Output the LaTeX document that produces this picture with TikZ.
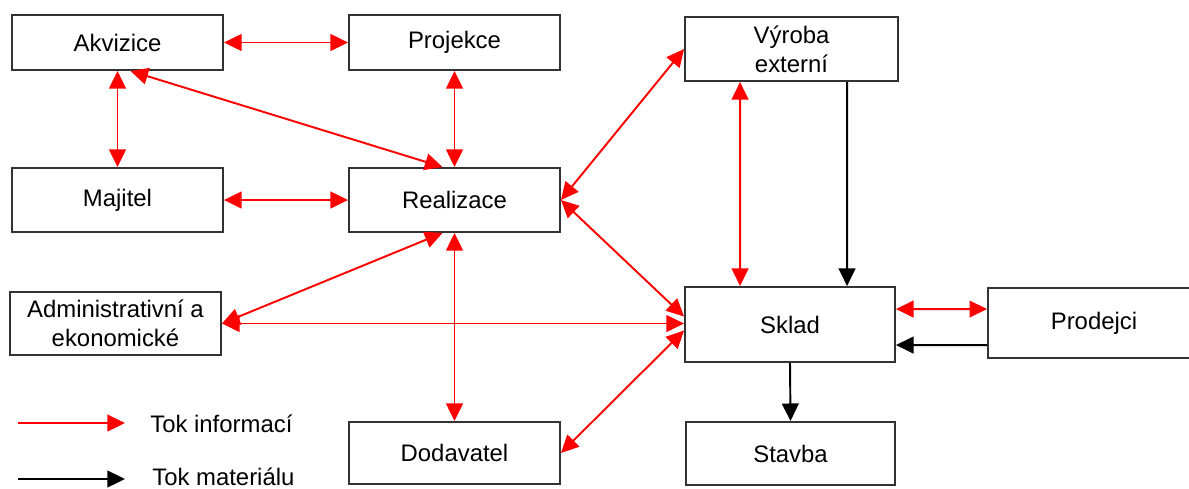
\documentclass[tikz,border=0pt]{standalone}
\usepackage{fontspec}
\setmainfont{Liberation Sans}
\usetikzlibrary{arrows.meta,calc}
\begin{document}
\begin{tikzpicture}[x=0.02cm,y=-0.02cm,
  txt/.style={font=\fontsize{13.6}{16.5}\selectfont},
  box/.style={draw=black!80, line width=1.1pt, rectangle, inner sep=0pt, align=center, txt},
  arr/.tip={Triangle[length=10pt,width=9.5pt]},
  info/.style={red, line width=1.1pt, arr-arr},
  infoone/.style={red, line width=1.1pt, -arr},
  mat/.style={black, line width=1.1pt, -arr},
]
\useasboundingbox (0,0) rectangle (1189,488);
% boxes
\node[box, minimum width=4.22cm, minimum height=1.10cm] (akv) at (117.5,42.5) {Akvizice};
\node[box, minimum width=4.22cm, minimum height=1.10cm] (proj) at (454.5,42.5) {Projekce};
\node[box, minimum width=4.26cm, minimum height=1.28cm] (vyr) at (791.5,49) {Výroba\\externí};
\node[box, minimum width=4.22cm, minimum height=1.28cm] (maj) at (117.5,200) {Majitel};
\node[box, minimum width=4.22cm, minimum height=1.28cm] (real) at (454.5,200) {Realizace};
\node[box, minimum width=4.22cm, minimum height=1.26cm] (adm) at (115.5,323.5) {Administrativní a\\ekonomické};
\node[box, minimum width=4.20cm, minimum height=1.50cm] (sklad) at (790,324.5) {Sklad};
\node[box, minimum width=4.24cm, minimum height=1.40cm] (prod) at (1094,323) {Prodejci};
\node[box, minimum width=4.22cm, minimum height=1.24cm] (dod) at (454.5,453) {Dodavatel};
\node[box, minimum width=4.18cm, minimum height=1.26cm] (stavba) at (790.5,453.5) {Stavba};
% information flows
\draw[info] (akv.east) -- (proj.west);
\draw[info] (akv.south) -- (maj.north);
\draw[info] (proj.south) -- (real.north);
\draw[info] ($(real.north)+(-12,0)$) -- ($(akv.south)+(13,0)$);
\draw[info] (maj.east) -- (real.west);
\draw[info] (real.east) -- (vyr.west);
\draw[info] (real.east) -- ($(sklad.west)+(0,-8)$);
\draw[info] (adm.east) -- ($(real.south)+(-12,0)$);
\draw[info] (adm.east) -- (adm.east -| sklad.west);
\draw[info] (real.south) -- (dod.north);
\draw[info] (dod.east) -- ($(sklad.west)+(0,6)$);
\draw[info] ($(vyr.south west)+(56,0)$) -- ($(sklad.north west)+(56,0)$);
\draw[info] ($(sklad.north east)+(0,23)$) -- ($(prod.north west)+(0,22)$);
% material flows
\draw[mat] ($(vyr.south west)+(163,0)$) -- ($(sklad.north west)+(163,0)$);
\draw[mat] ($(prod.north west)+(0,58)$) -- ($(sklad.north east)+(0,59)$);
\draw[mat] (sklad.south) -- (stavba.north);
% legend
\coordinate (la) at (18,423);
\coordinate (lb) at (125,423);
\draw[infoone] (la) -- (lb);
\node[txt, anchor=base west, inner sep=0pt] (lt1) at (150,432) {Tok informací};
\coordinate (lc) at (18,479);
\coordinate (ld) at (125,479);
\draw[mat] (lc) -- (ld);
\node[txt, anchor=base west, inner sep=0pt] (lt2) at (152,485) {Tok materiálu};
\end{tikzpicture}
\end{document}
